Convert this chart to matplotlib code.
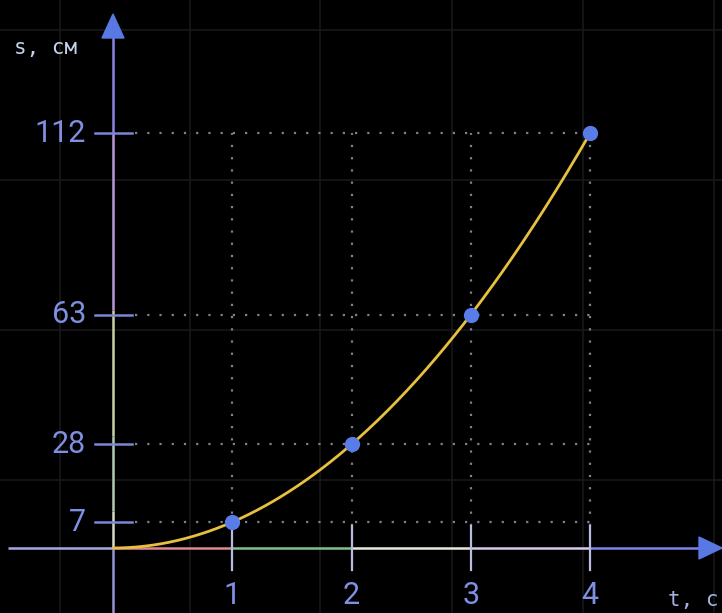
import numpy as np
import matplotlib
matplotlib.use("Agg")
import matplotlib.pyplot as plt
from matplotlib.lines import Line2D
from matplotlib.patches import Polygon

# ---- data ----
t_values = [1, 2, 3, 4]
s_values = [7, 28, 63, 112]
t_start = 0
s_start = 0
x_tick_labels = ["1", "2", "3", "4"]
y_tick_labels = ["7", "28", "63", "112"]
x_label = "t, c"
y_label = "s, см"

W, H = 722, 613
fig = plt.figure(figsize=(W / 100, H / 100), dpi=100, facecolor="black")
ax = fig.add_axes([0, 0, 1, 1])
ax.set_facecolor("black")
ax.axis("off")

# pixel mapping (origin at px (113, 548))
ox, oy = 113, 548
sx, sy = 119.3, 3.705
ax.set_xlim(-ox / sx, (W - ox) / sx)
ax.set_ylim(-(H - oy) / sy, oy / sy)

def dx(px):
    return (px - ox) / sx

def dy(py):
    return (oy - py) / sy

# faint background grid (figure level)
for gx in [60, 190, 320, 452, 583, 714]:
    fig.add_artist(Line2D([gx / W, gx / W], [0, 1], color="#181818", lw=1.2, zorder=0))
for gy in [30, 180, 330, 480]:
    fig.add_artist(Line2D([0, 1], [1 - gy / H, 1 - gy / H], color="#181818", lw=1.2, zorder=0))

# dotted guide grid
tmax, smax = max(t_values), max(s_values)
for s in s_values:
    ax.plot([dx(135), tmax], [s, s], color="#80808e", lw=1.6, ls=(0, (1, 4.5)), zorder=2)
for t in t_values:
    ax.plot([t, t], [dy(526), smax], color="#80808e", lw=1.6, ls=(0, (1, 4.5)), zorder=2)

# colored axis segments
xseg_px = [8, 113, 232, 351, 470, 590, 702]
xseg_col = ["#a8a8e0", "#e08890", "#80c090", "#e8e8d8", "#d8c8ec", "#7a84ec"]
for i, c in enumerate(xseg_col):
    ax.plot([dx(xseg_px[i]), dx(xseg_px[i + 1])], [0, 0], color=c, lw=1.8, zorder=3,
            solid_capstyle="butt")
yseg_px = [613, 548, 511, 436, 310, 133, 36]
yseg_col = ["#9494d4", "#d8d8c4", "#b0ccb0", "#ccd0a4", "#b898dc", "#8c84e4"]
for i, c in enumerate(yseg_col):
    ax.plot([0, 0], [dy(yseg_px[i]), dy(yseg_px[i + 1])], color=c, lw=1.8, zorder=3,
            solid_capstyle="butt")

# arrows
arrow_col = "#5a78e4"
ax.add_patch(Polygon([[0, dy(14)], [dx(ox - 11), dy(38)], [dx(ox + 11), dy(38)]],
                     closed=True, color=arrow_col, zorder=4))
ax.add_patch(Polygon([[dx(722), 0], [dx(699), dy(oy - 11)], [dx(699), dy(oy + 11)]],
                     closed=True, color=arrow_col, zorder=4))

# ticks
tick_col = "#7a86d8"
for s in s_values:
    ax.plot([dx(95), dx(132)], [s, s], color=tick_col, lw=1.8, zorder=3)
for t in t_values:
    ax.plot([t, t], [dy(526), dy(570)], color="#b8bce0", lw=1.6, zorder=3)

# tick labels
lab_font = ["Roboto", "DejaVu Sans"]
lab_col = "#7f8fe2"
for s, lab in zip(s_values, y_tick_labels):
    ax.text(dx(86), s, lab, ha="right", va="center", fontsize=22, color=lab_col,
            family=lab_font, fontweight="normal", zorder=5)
for t, lab in zip(t_values, x_tick_labels):
    ax.text(t, dy(604), lab, ha="center", va="baseline", fontsize=22, color=lab_col,
            family=lab_font, fontweight="normal", zorder=5)

# axis names
ax.text(dx(14), dy(48), y_label, ha="left", va="center", fontsize=15, color="#c4d4ee",
        family=["DejaVu Sans Mono"], zorder=5)
ax.text(dx(718), dy(606), x_label, ha="right", va="baseline", fontsize=15, color="#a4b0e4",
        family=["DejaVu Sans Mono"], zorder=5)

# curve through the data points (quadratic fit)
tt = np.array([t_start] + t_values, dtype=float)
ss = np.array([s_start] + s_values, dtype=float)
coef = np.polyfit(tt, ss, 2)
tc = np.linspace(tt.min(), tt.max(), 300)
ax.plot(tc, np.polyval(coef, tc), color="#e8c040", lw=2.0, zorder=6, solid_capstyle="round")

# points
ax.plot(t_values, s_values, "o", color="#5a7ce8", markersize=11, markeredgewidth=0, zorder=7)

fig.savefig("out.png", dpi=100, facecolor="black")
